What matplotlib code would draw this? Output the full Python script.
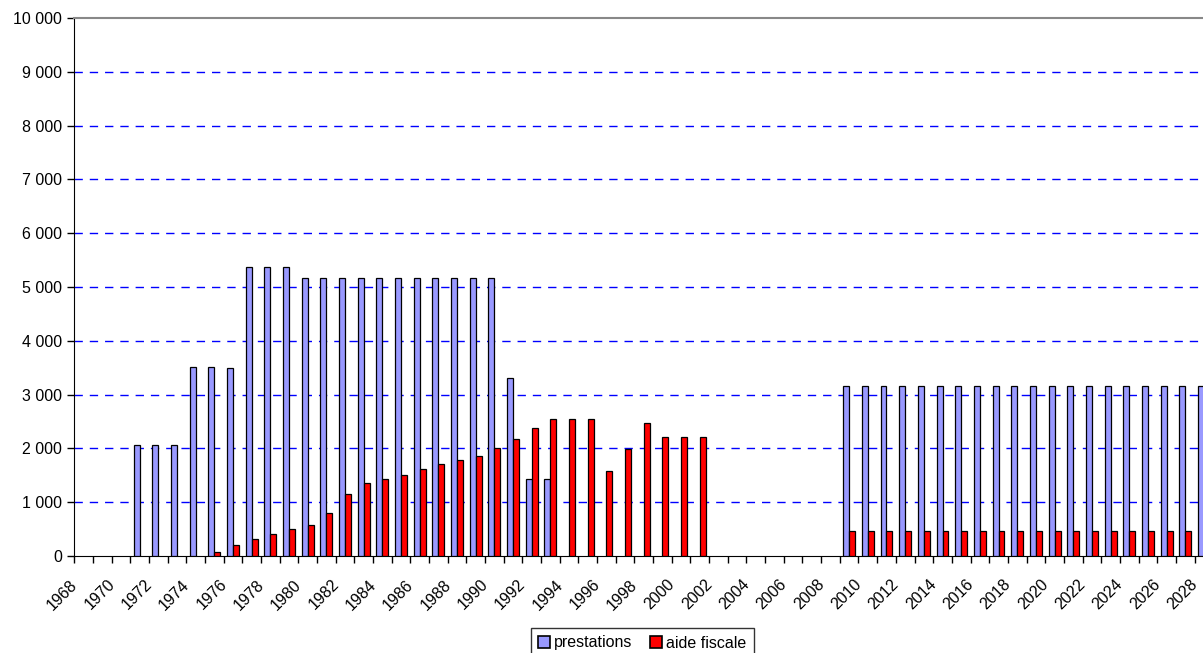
import matplotlib
matplotlib.use("Agg")
import matplotlib.pyplot as plt
from matplotlib.transforms import ScaledTranslation
import numpy as np

plt.rcParams['font.family'] = ['Liberation Sans', 'DejaVu Sans']

# years 1968 .. 2028
years = list(range(1968, 2029))

# prestations (blue bars)
prestations = ([0, 0, 0]                       # 1968-1970
               + [2065, 2065, 2065]            # 1971-1973
               + [3515, 3515, 3500]            # 1974-1976
               + [5365, 5365, 5365]            # 1977-1979
               + [5170] * 11                   # 1980-1990
               + [3315, 1440, 1440]            # 1991-1993
               + [0] * 15                      # 1994-2008
               + [3165] * 20)                  # 2009-2028

# aide fiscale (red bars)
aide_fiscale = ([0] * 7                        # 1968-1974
                + [70, 200, 322, 415, 496, 582, 799, 1158, 1351, 1431,   # 1975-1984
                   1511, 1623, 1704, 1784, 1865, 2001, 2181, 2385, 2546,  # 1985-1993
                   2546, 2546, 1586, 1983, 2478, 2218, 2218, 2218]       # 1994-2001
                + [0] * 7                      # 2002-2008
                + [470] * 20)                  # 2009-2028

y_ticks = list(range(0, 10001, 1000))
y_labels = ['0' if v == 0 else f"{v:,}".replace(',', ' ') for v in y_ticks]

fs = 11.5

fig = plt.figure(figsize=(12.03, 6.53), dpi=100)
# the plot area runs past the right edge of the picture (last year is cut)
ax = fig.add_axes([0.0618, 0.1485, 0.9467, 0.8239])

x = np.arange(len(years))
w = 0.32
# bars with zero value are not drawn (Excel shows nothing there)
p = np.array(prestations, dtype=float)
a = np.array(aide_fiscale, dtype=float)
ax.bar(x[p > 0] - w / 2, p[p > 0], width=w, color='#9999FF', edgecolor='black',
       linewidth=0.9, label='prestations', zorder=3)
ax.bar(x[a > 0] + w / 2, a[a > 0], width=w, color='#FF0000', edgecolor='black',
       linewidth=0.9, label='aide fiscale', zorder=3)

ax.set_xlim(-0.5, len(years) - 0.5)
ax.set_ylim(0, 10000)

# gridlines
for v in y_ticks[1:-1]:
    ax.axhline(v, color='#0000FF', linewidth=1, dashes=(6, 5), zorder=1)

ax.set_yticks(y_ticks)
ax.set_yticklabels(y_labels, fontsize=fs)
ax.tick_params(axis='y', direction='out', length=5, width=1, pad=4)

# labels every two years, boundary ticks every year
ax.set_xticks(x[::2])
ax.set_xticklabels([str(y) for y in years[::2]], rotation=45, ha='right',
                   rotation_mode='anchor', fontsize=fs)
ax.set_xticks(np.arange(-0.5, len(years) + 0.5, 1), minor=True)
ax.tick_params(axis='x', which='major', length=0, pad=15)
ax.tick_params(axis='x', which='minor', direction='out', length=5, width=1)
shift = ScaledTranslation(-14 / 100, 0, fig.dpi_scale_trans)
for lbl in ax.get_xticklabels():
    lbl.set_transform(lbl.get_transform() + shift)

ax.spines['left'].set_color('black')
ax.spines['bottom'].set_color('black')
ax.spines['top'].set_color('#888888')
ax.spines['top'].set_linewidth(1.5)
ax.spines['right'].set_visible(False)

leg = fig.legend(loc='center', bbox_to_anchor=(642.5 / 1203, 1 - 643 / 653), ncol=2,
                 fontsize=fs, frameon=True, fancybox=False, edgecolor='black',
                 handlelength=0.75, handleheight=0.75, handletextpad=0.25,
                 columnspacing=1.1, borderpad=0.45, borderaxespad=0)
leg.get_frame().set_linewidth(1)
for h in leg.legend_handles:
    h.set_linewidth(1.2)

fig.savefig('out.png', dpi=100)
